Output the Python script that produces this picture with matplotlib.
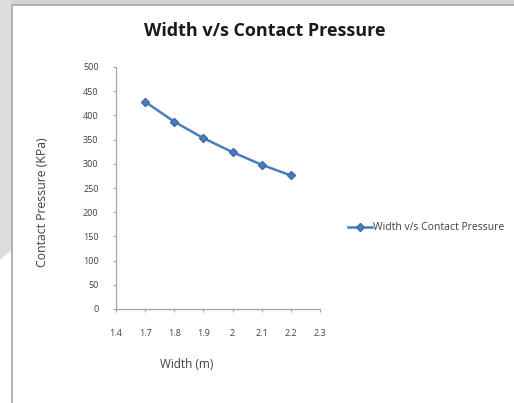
import matplotlib
matplotlib.use("Agg")
import matplotlib.pyplot as plt
from matplotlib.patches import Rectangle, Polygon

width_m = [1.7, 1.8, 1.9, 2.0, 2.1, 2.2]
pressure_kpa = [428, 387, 353, 324, 298, 276]
x_ticks = [1.6, 1.7, 1.8, 1.9, 2.0, 2.1, 2.2, 2.3]
x_tick_labels = ["1.4", "1.7", "1.8", "1.9", "2", "2.1", "2.2", "2.3"]
y_ticks = [0, 50, 100, 150, 200, 250, 300, 350, 400, 450, 500]
series_name = "Width v/s Contact Pressure"

plt.rcParams['font.family'] = ['Open Sans', 'DejaVu Sans']

W, H = 514, 403
fig = plt.figure(figsize=(W / 100, H / 100), dpi=100)
fig.patch.set_facecolor('white')

# background artifacts: gray strip at top and left
fig.patches.append(Rectangle((0, 1 - 6 / H), 1, 6 / H, transform=fig.transFigure,
                             facecolor='#d4d4d4', edgecolor='none', zorder=0))
fig.patches.append(Polygon([(0, 1), (12 / W, 1), (12 / W, 1 - 250 / H), (0, 1 - 260 / H)],
                           closed=True, transform=fig.transFigure,
                           facecolor='#dcdcdc', edgecolor='none', zorder=0))
# chart border
fig.patches.append(Rectangle((12 / W, -0.01), 1.02 - 12 / W, 1 - 5 / H + 0.01,
                             transform=fig.transFigure, facecolor='white',
                             edgecolor='#a6a6a6', linewidth=1.2, zorder=1))

ax = fig.add_axes([116 / W, 1 - 309 / H, (320 - 116) / W, (309 - 67) / H])
ax.set_facecolor('none')
ax.set_zorder(2)

ax.plot(width_m, pressure_kpa, color='#4a7ebb', linewidth=1.8, marker='D',
        markersize=4.5, markerfacecolor='#4a7ebb', markeredgecolor='#3d6ca8',
        label=series_name)

ax.set_xlim(1.6, 2.3)
ax.set_ylim(0, 500)
ax.set_xticks(x_ticks)
ax.set_xticklabels(x_tick_labels)
ax.set_yticks(y_ticks)

for s in ['top', 'right']:
    ax.spines[s].set_visible(False)
for s in ['left', 'bottom']:
    ax.spines[s].set_color('#a6a6a6')
    ax.spines[s].set_linewidth(0.9)
ax.tick_params(axis='both', colors='#a6a6a6', labelcolor='#404040',
               labelsize=6.5, length=2.5, width=0.8)
ax.tick_params(axis='x', pad=12)
ax.tick_params(axis='y', pad=10)

ax.set_xlabel("Width (m)", fontsize=8.5, color='#404040')
ax.xaxis.set_label_coords((187 - 116) / (320 - 116), -(365 - 309) / (309 - 67))
ax.xaxis.label.set_va('center')
ax.set_ylabel("Contact Pressure (KPa)", fontsize=8.8, color='#404040')
ax.yaxis.set_label_coords(-(116 - 43) / (320 - 116), (309 - 202) / (309 - 67))
ax.yaxis.label.set_va('center')

fig.text(265 / W, 1 - 31 / H, "Width v/s Contact Pressure", ha='center', va='center',
         fontsize=13, fontweight='bold', color='#1a1a1a', zorder=3)

leg = fig.legend(loc='center left', bbox_to_anchor=(345 / W, 1 - 228 / H),
                 frameon=False, fontsize=7.5, handlelength=2.3, handletextpad=0.05,
                 labelcolor='#404040', borderaxespad=0.0, borderpad=0.3)

fig.savefig("out.png", dpi=100)
